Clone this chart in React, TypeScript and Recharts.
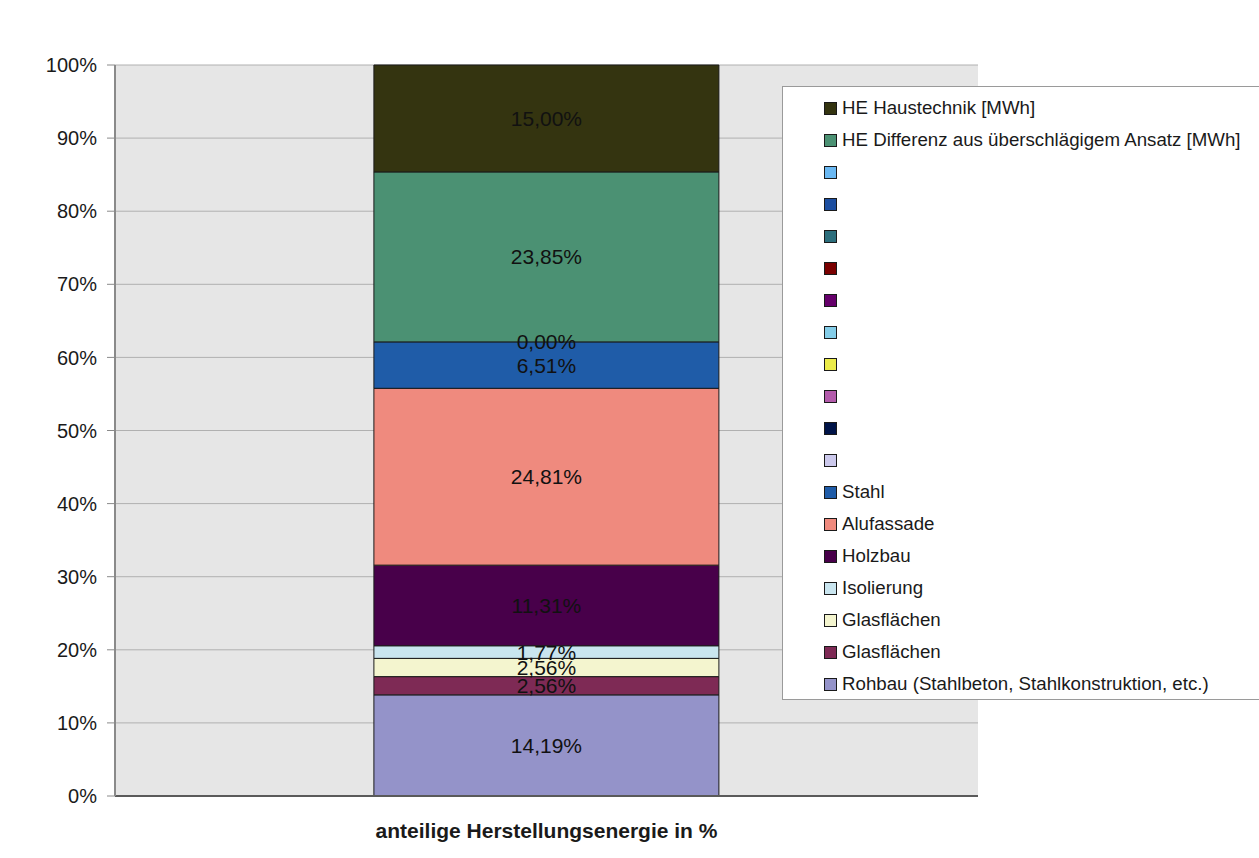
import React from "react";
import {
  BarChart,
  Bar,
  XAxis,
  YAxis,
  CartesianGrid,
  LabelList,
} from "recharts";

// ---- data ----
const categories = ["anteilige Herstellungsenergie in %"];

// stack order: bottom -> top
const seriesNames = [
  "Rohbau (Stahlbeton, Stahlkonstruktion, etc.)",
  "Glasflächen",
  "Glasflächen",
  "Isolierung",
  "Holzbau",
  "Alufassade",
  "Stahl",
  "",
  "",
  "",
  "",
  "",
  "",
  "",
  "",
  "",
  "",
  "HE Differenz aus überschlägigem Ansatz [MWh]",
  "HE Haustechnik [MWh]",
];

const seriesValues = [
  14.19, 2.56, 2.56, 1.77, 11.31, 24.81, 6.51,
  0, 0, 0, 0, 0, 0, 0, 0, 0, 0,
  23.85, 15.0,
];

const seriesShowLabel = [
  true, true, true, true, true, true, true,
  true, false, false, false, false, false, false, false, false, false,
  true, true,
];

const seriesColors = [
  "#9493c9",
  "#7e2a55",
  "#f4f5cf",
  "#c9e5ef",
  "#48004a",
  "#ef8a7e",
  "#1f5ca8",
  "#ccc9ec",
  "#001448",
  "#b35bab",
  "#ecec4a",
  "#84cde8",
  "#66006b",
  "#7a0000",
  "#2c6e7c",
  "#1c4ea0",
  "#6ab8f2",
  "#4b9173",
  "#343410",
];

const yTicks = [0, 0.1, 0.2, 0.3, 0.4, 0.5, 0.6, 0.7, 0.8, 0.9, 1];
const yTickLabels = ["0%", "10%", "20%", "30%", "40%", "50%", "60%", "70%", "80%", "90%", "100%"];

const keys = seriesNames.map((_, i) => `s${i}`);

const chartData = categories.map((c) => {
  const row: Record<string, string | number> = { category: c };
  keys.forEach((k, i) => {
    row[k] = seriesValues[i];
  });
  return row;
});

const fmtPct = (v: any) =>
  typeof v === "number" ? `${v.toFixed(2).replace(".", ",")}%` : "";

const FONT = "'Liberation Sans', Arial, sans-serif";
const LABEL_STYLE = { fontFamily: FONT, fontSize: 21 };

// index of the zero-height labelled series sitting directly above series i
const zeroLabelAbove = (i: number) => {
  for (let j = i + 1; j < seriesValues.length; j++) {
    if (seriesValues[j] !== 0) return -1;
    if (seriesShowLabel[j]) return j;
  }
  return -1;
};

const LegendBox = () => {
  const order = seriesNames.map((_, i) => i).reverse();
  return (
    <div
      style={{
        position: "absolute",
        left: 782,
        top: 86,
        background: "#ffffff",
        border: "1px solid #9a9a9a",
        width: 520,
        height: 614,
        boxSizing: "border-box",
        paddingTop: 5,
        fontFamily: FONT,
        fontSize: 18.7,
        color: "#1a1a1a",
      }}
    >
      {order.map((i) => (
        <div
          key={i}
          style={{
            height: 32,
            display: "flex",
            alignItems: "center",
            paddingLeft: 41,
            whiteSpace: "nowrap",
          }}
        >
          <span
            style={{
              display: "inline-block",
              width: 11,
              height: 11,
              background: seriesColors[i],
              border: "1px solid #1a1a1a",
              marginRight: 5,
              flex: "none",
            }}
          />
          <span>{seriesNames[i]}</span>
        </div>
      ))}
    </div>
  );
};

export default function App() {
  return (
    <div
      style={{
        position: "absolute",
        left: 0,
        top: 0,
        width: 1259,
        height: 858,
        overflow: "hidden",
        background: "#ffffff",
      }}
    >
      <BarChart
        width={1259}
        height={858}
        data={chartData}
        stackOffset="expand"
        margin={{ top: 65, right: 281, bottom: 2, left: 0 }}
        barCategoryGap="30%"
      >
        <CartesianGrid
          vertical={false}
          fill="#e6e6e6"
          stroke="#b0b0b0"
          strokeWidth={1}
        />
        <XAxis
          dataKey="category"
          height={60}
          tickLine={false}
          axisLine={{ stroke: "#5a5a5a", strokeWidth: 2 }}
          tickMargin={21}
          tick={{ fontFamily: FONT, fontSize: 21, fontWeight: 700, fill: "#1a1a1a" }}
        />
        <YAxis
          width={115}
          domain={[0, 1]}
          ticks={yTicks}
          tickFormatter={(v: number) => yTickLabels[yTicks.indexOf(v)] ?? ""}
          tickSize={8}
          tickMargin={10}
          tickLine={{ stroke: "#8a8a8a" }}
          axisLine={{ stroke: "#8a8a8a", strokeWidth: 2 }}
          tick={{ fontFamily: FONT, fontSize: 20, fill: "#1a1a1a" }}
          interval={0}
        />
        <YAxis
          yAxisId="right"
          orientation="right"
          width={0}
          domain={[0, 1]}
          tick={false}
          tickLine={false}
          axisLine={{ stroke: "#a0a0a0", strokeWidth: 2 }}
        />
        {keys.map((k, i) => {
          const zi = zeroLabelAbove(i);
          return (
            <Bar
              key={k}
              dataKey={k}
              name={seriesNames[i] || `(${i})`}
              stackId="a"
              fill={seriesColors[i]}
              stroke="#1a1a1a"
              strokeWidth={1}
              isAnimationActive={false}
            >
              {seriesShowLabel[i] && seriesValues[i] !== 0 && (
                <LabelList
                  dataKey={k}
                  position="center"
                  formatter={fmtPct}
                  fill="#111111"
                  style={LABEL_STYLE}
                />
              )}
              {zi >= 0 && (
                <LabelList
                  dataKey={keys[zi]}
                  content={(p: any) => (
                    <text
                      x={Number(p.x) + Number(p.width) / 2}
                      y={Number(p.y)}
                      textAnchor="middle"
                      dominantBaseline="central"
                      fill="#111111"
                      style={LABEL_STYLE}
                    >
                      {fmtPct(p.value)}
                    </text>
                  )}
                />
              )}
            </Bar>
          );
        })}
      </BarChart>
      <LegendBox />
    </div>
  );
}
